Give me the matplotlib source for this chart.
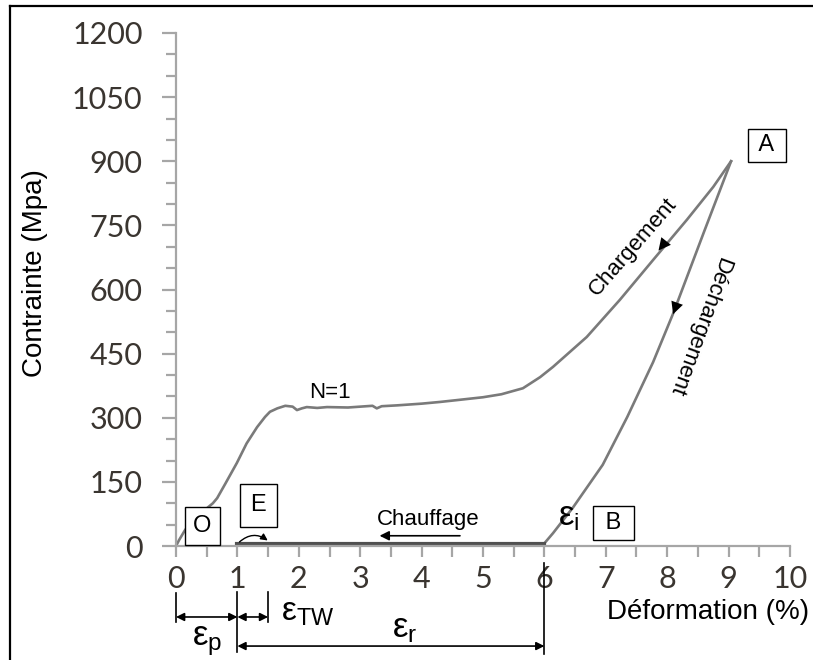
import matplotlib
matplotlib.use("Agg")
import matplotlib.pyplot as plt
from matplotlib.lines import Line2D

plt.rcParams['font.family'] = ['Liberation Sans', 'DejaVu Sans']

# loading curve (N=1), O -> A
load_x = [0, 0.05, 0.15, 0.28, 0.4, 0.5, 0.6, 0.67, 0.8, 0.99, 1.15, 1.32, 1.45, 1.53,
          1.65, 1.78, 1.9, 1.97, 2.05, 2.13, 2.3, 2.46, 2.8, 3.0, 3.2, 3.27, 3.35, 3.6,
          4.0, 4.3, 4.62, 5.0, 5.3, 5.65, 5.93, 6.14, 6.69, 7.23, 7.77, 8.32, 8.75, 9.04]
load_y = [0, 14, 38, 61, 78, 88, 100, 112, 145, 194, 240, 278, 302, 314,
          322, 328, 326, 318, 322, 325, 323, 325, 324, 326, 328, 322, 327, 329,
          333, 337, 342, 348, 355, 369, 395, 419, 489, 576, 669, 763, 840, 900]

# unloading curve, A -> B
unload_x = [9.04, 8.6, 8.1, 7.77, 7.35, 6.95, 6.47, 6.14, 5.98]
unload_y = [900, 735, 545, 430, 302, 190, 91, 30, 3]

# heating, back to E
heat_x = [6.0, 1.0]
heat_y = [4, 4]

x_ticks = list(range(0, 11))
y_ticks = list(range(0, 1201, 150))

fig = plt.figure(figsize=(8.13, 6.6), dpi=100)
ax = fig.add_axes([0.2165, 0.1727, 0.7552, 0.7773])

ax.plot(load_x, load_y, color='#7a7a7a', lw=1.9)
ax.plot(unload_x, unload_y, color='#7a7a7a', lw=1.9)
ax.plot(heat_x, heat_y, color='#505050', lw=3)

ax.set_xlim(0, 10)
ax.set_ylim(0, 1200)
ax.set_xticks(x_ticks)
ax.set_yticks(y_ticks)
ax.set_xticks([i + 0.5 for i in range(10)], minor=True)
ax.set_yticks([v for v in range(0, 1200, 50) if v % 150], minor=True)

for s in ['top', 'right']:
    ax.spines[s].set_visible(False)
for s in ['left', 'bottom']:
    ax.spines[s].set_color('#a6a6a6')
    ax.spines[s].set_linewidth(1.6)

ax.tick_params(axis='both', which='both', color='#a6a6a6', width=1.6)
ax.tick_params(axis='x', which='both', length=8, pad=6)
ax.tick_params(axis='y', which='major', length=10, pad=14)
ax.tick_params(axis='y', which='minor', length=7)
for lab in ax.get_xticklabels() + ax.get_yticklabels():
    lab.set_fontfamily('Lato')
    lab.set_fontsize(22)
    lab.set_color('#3a3530')

fig.text(0.043, 0.586, 'Contrainte (Mpa)', rotation=90, ha='center', va='center', fontsize=20)
ax.text(7.02, -154, 'Déformation (%)', ha='left', va='center', fontsize=20, clip_on=False)

# labelled boxes
box = dict(boxstyle='square,pad=0.25', fc='white', ec='black', lw=1)
ax.text(9.62, 937, ' A ', ha='center', va='center', fontsize=17, bbox=box, clip_on=False)
ax.text(7.12, 54, ' B ', ha='center', va='center', fontsize=17, bbox=box)
ax.text(0.43, 47, 'O', ha='center', va='center', fontsize=17,
        bbox=dict(boxstyle='square,pad=0.35', fc='white', ec='black', lw=1))
ax.text(1.34, 95, 'E', ha='center', va='center', fontsize=17,
        bbox=dict(boxstyle='square,pad=0.45', fc='white', ec='black', lw=1))

ax.text(2.51, 358, 'N=1', ha='center', va='center', fontsize=16)
ax.text(4.1, 61, 'Chauffage', ha='center', va='center', fontsize=16)
ax.annotate('', xy=(3.27, 24), xytext=(4.67, 24),
            arrowprops=dict(arrowstyle='-|>', color='black', lw=1.2, mutation_scale=14))
ax.text(7.44, 700, 'Chargement', rotation=49, ha='center', va='center', fontsize=16,
        rotation_mode='anchor')
ax.text(8.52, 515, 'Déchargement', rotation=-110, ha='center', va='center', fontsize=16,
        rotation_mode='anchor')

# direction arrows on the curves
ax.annotate('', xy=(7.83, 686), xytext=(7.93, 704),
            arrowprops=dict(arrowstyle='-|>', color='black', lw=0, mutation_scale=22))
ax.annotate('', xy=(8.08, 536), xytext=(8.13, 556),
            arrowprops=dict(arrowstyle='-|>', color='black', lw=0, mutation_scale=22))

# small curved arrow at E
ax.annotate('', xy=(1.53, 9), xytext=(1.0, 5),
            arrowprops=dict(arrowstyle='-|>', color='black', lw=1, mutation_scale=10,
                            connectionstyle='arc3,rad=-0.45'))

ax.text(6.4, 68, r'$\mathregular{ε_i}$', ha='center', va='center', fontsize=25)

# strain components below the axis
bars = [(0, -110, -178), (1, -108, -248), (1.5, -108, -178), (6, -40, -252)]
for bx, y0, y1 in bars:
    ax.plot([bx, bx], [y0, y1], color='black', lw=1.2, clip_on=False)
dims = [(0, 1, -166), (1, 1.5, -166), (1, 6, -234)]
for a, b, yy in dims:
    ax.annotate('', xy=(b, yy), xytext=(a, yy), annotation_clip=False,
                arrowprops=dict(arrowstyle='<|-|>', color='black', lw=1.2,
                                mutation_scale=12, shrinkA=0, shrinkB=0))
ax.text(0.51, -222, r'$\mathregular{ε_p}$', ha='center', va='center', fontsize=25, clip_on=False)
ax.text(2.15, -156, r'$\mathregular{ε_{TW}}$', ha='center', va='center', fontsize=24, clip_on=False)
ax.text(3.73, -192, r'$\mathregular{ε_r}$', ha='center', va='center', fontsize=25, clip_on=False)

# frame lines of the original picture
fig.add_artist(Line2D([0.0123, 0.0123], [0, 0.991], color='black', lw=1.6))
fig.add_artist(Line2D([0.0123, 1.0], [0.991, 0.991], color='black', lw=1.6))

fig.savefig('out.png', dpi=100)
